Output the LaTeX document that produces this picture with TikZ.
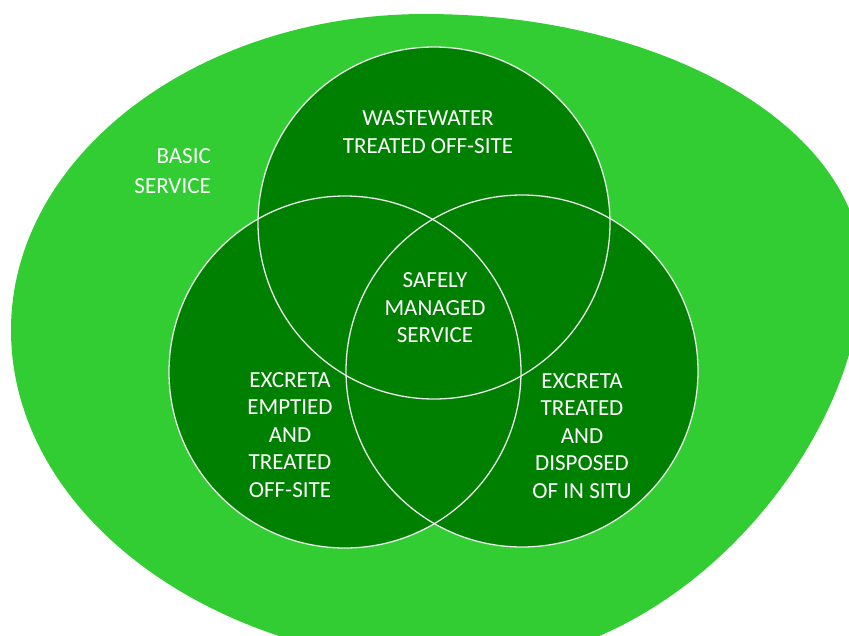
\documentclass[tikz,border=0pt]{standalone}
\usepackage{fontspec}
\setmainfont{Carlito}
\definecolor{basicgreen}{RGB}{50,205,50}
\definecolor{safegreen}{RGB}{0,128,0}
\begin{document}
\begin{tikzpicture}[x=1pt,y=-1pt,
    every node/.style={font=\fontsize{23}{27.5}\selectfont,text=white,align=center,inner sep=0pt}]
    \useasboundingbox (0,0) rectangle (849,635);
    % Servicio basico: la mancha clara del fondo.
    \fill[basicgreen] (11,330) .. controls (11,156) and (197,14) .. (425,14)
        .. controls (666,14) and (862,129) .. (862,271)
        .. controls (862,440) and (683,665) .. (463,665)
        .. controls (214,665) and (11,515) .. (11,330) -- cycle;

    % Los tres circulos, rellenos primero y luego sus bordes blancos.
    \fill[safegreen] (434,223) circle (176) (345,372) circle (176) (522,371) circle (176);
    \draw[white!92!black,line width=1.3pt] (434,223) circle (176);
    \draw[white!92!black,line width=1.3pt] (345,372) circle (176);
    \draw[white!92!black,line width=1.3pt] (522,371) circle (176);

    \node[align=right,anchor=east] (basic) at (211,171) {BASIC\\[3pt]SERVICE};
    \node (wastewater) at (428,132) {WASTEWATER\\TREATED OFF-SITE};
    \node (safely) at (435,308) {SAFELY\\MANAGED\\SERVICE};
    \node (emptied) at (290,435) {EXCRETA\\EMPTIED\\AND\\TREATED\\OFF-SITE};
    \node (insitu) at (582,436) {EXCRETA\\TREATED\\AND\\DISPOSED\\OF IN SITU};
\end{tikzpicture}
\end{document}
